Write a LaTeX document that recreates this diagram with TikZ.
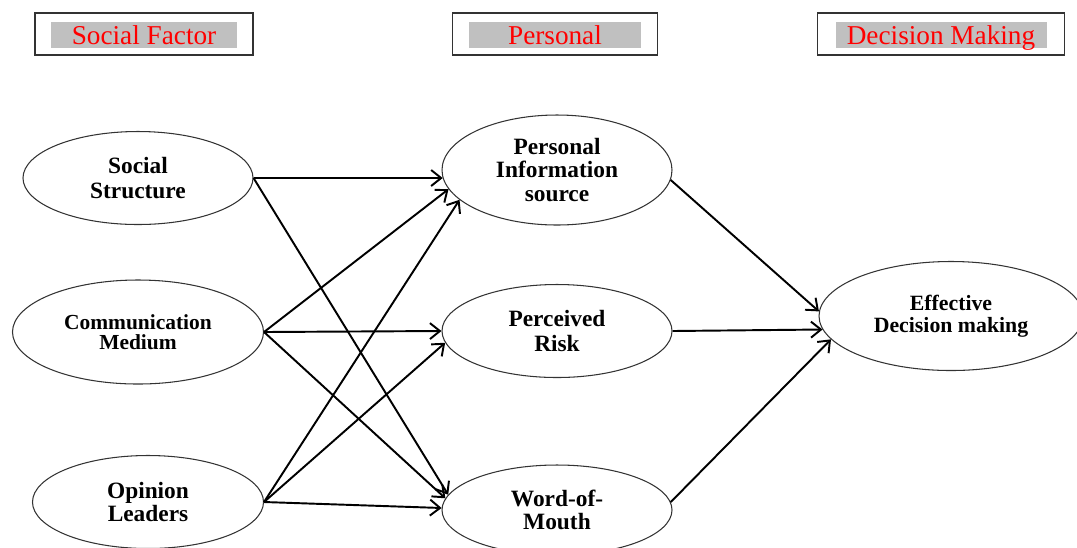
\documentclass[tikz,border=0pt]{standalone}
\usepackage{fontspec}
\setmainfont{Liberation Serif}
\usetikzlibrary{arrows.meta,shapes.geometric}
\definecolor{hdred}{HTML}{FF0000}
\definecolor{hdgray}{HTML}{C0C0C0}
\definecolor{rimgray}{HTML}{333333}

\begin{document}
\begin{tikzpicture}[
  x=0.2mm, y=-0.2mm,
  factor/.style={ellipse, draw=rimgray, line width=0.6pt, inner sep=0pt,
    minimum width=4.6cm, minimum height=1.86cm, align=center,
    font=\rmfamily\fontsize{13.3}{13.3}\selectfont\bfseries},
  header/.style={draw=rimgray, line width=1pt, minimum height=0.84cm, inner sep=0pt},
  tag/.style={fill=hdgray, text=hdred, minimum height=0.52cm, inner sep=0pt,
    text height=11.5pt, text depth=0.2pt, font=\rmfamily\fontsize{15.5}{16}\selectfont},
  link/.style={-{Straight Barb[length=2mm,width=3.2mm]}, line width=1.1pt},
]
\useasboundingbox (0,0) rectangle (1077,547);

% ===== headers =====
\node[header, minimum width=4.36cm] (hsoc) at (144,34) {};
\node[tag, minimum width=3.7cm] (tsoc) at (144,35) {Social Factor};
\node[header, minimum width=4.1cm] (hper) at (555,34) {};
\node[tag, minimum width=3.44cm] (tper) at (555,35) {Personal};
\node[header, minimum width=4.94cm] (hdec) at (941,34) {};
\node[tag, minimum width=4.22cm] (tdec) at (941,35) {Decision Making};

% ===== social factors =====
\node[factor, font=\rmfamily\fontsize{13.3}{14.7}\selectfont\bfseries] (ss) at (138,178) {Social\\Structure};
\node[factor, minimum width=5.02cm, minimum height=2.08cm,
  font=\rmfamily\fontsize{12.2}{11.5}\selectfont\bfseries] (cm) at (138,332) {Communication\\Medium};
\node[factor, minimum width=4.62cm] (ol) at (148,502) {Opinion\\Leaders};

% ===== personal =====
\node[factor, minimum height=2.2cm] (pi) at (557,170) {Personal\\Information\\source};
\node[factor, font=\rmfamily\fontsize{13.3}{14.2}\selectfont\bfseries] (pr) at (557,331) {Perceived\\Risk};
\node[factor, minimum height=1.8cm] (wom) at (557,510) {Word-of-\\Mouth};

% ===== decision =====
\node[factor, minimum width=5.28cm, minimum height=2.18cm,
  font=\rmfamily\fontsize{12.4}{12.7}\selectfont\bfseries] (edm) at (951,316) {Effective\\Decision making};

% ===== links =====
\draw[link] (ss.east) -- (pi.184);
\draw[link] (ss.east) -- (wom.172);
\draw[link] (cm.east) -- (pi.190);
\draw[link] (cm.east) -- (pr.west);
\draw[link] (cm.east) -- (wom.174);
\draw[link] (ol.east) -- (pi.197);
\draw[link] (ol.east) -- (pr.186);
\draw[link] (ol.east) -- (wom.179);

\draw[link] (pi.-5) -- (edm.178);
\draw[link] (pr.east) -- (edm.186);
\draw[link] (wom.4) -- (edm.191);

\end{tikzpicture}
\end{document}
